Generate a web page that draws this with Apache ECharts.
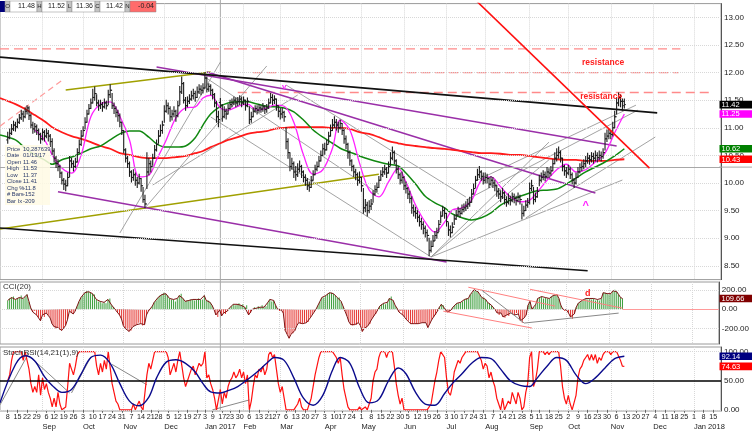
<!DOCTYPE html>
<html><head><meta charset="utf-8">
<script src="https://cdn.jsdelivr.net/npm/echarts@6/dist/echarts.min.js"></script>
<style>html,body{margin:0;padding:0;background:#fff}#c{width:752px;height:439px}</style>
</head><body><div id="c"></div>
<script>
// ---------- calendar ----------
const HOLIDAYS = ['2016-09-05','2016-11-24','2016-12-26','2017-01-02','2017-01-16','2017-02-20','2017-04-14','2017-05-29','2017-07-04','2017-09-04'];
const CAT_START = '2016-08-02', BAR_START = '2016-08-08', CAT_END = '2018-01-19';
const MONTHS = ['Jan','Feb','Mar','Apr','May','Jun','Jul','Aug','Sep','Oct','Nov','Dec'];

// ---------- price bars (daily, from 2016-08-08 to 2017-11-10) ----------
const openP = [
10.78,10.82,10.90,10.98,11.05, 11.02,11.10,11.18,11.25,11.20, 11.30,11.36,11.22,11.05,10.98, 11.02,10.95,10.88,10.80,10.92,
10.85,10.90,10.85,10.75, 10.58,10.45,10.35,10.30,10.18, 10.05,9.98,9.95,10.10,10.40, 10.35,10.30,10.38,10.55,10.70,
10.85,10.95,11.10,11.25,11.35, 11.45,11.55,11.62,11.45,11.40, 11.42,11.38,11.45,11.40,11.60, 11.68,11.40,11.35,11.28,11.22,
11.10,10.95,10.60,10.45,10.35, 10.20,10.10,10.15,10.05,10.00, 10.08,9.95,9.70,9.62,10.20, 10.35,10.30,10.45,10.60,
10.70,10.85,10.95,11.05,11.30, 11.40,11.35,11.20,11.25,11.30, 11.22,11.40,11.65,11.80,11.50, 11.40,11.48,11.52,11.58,11.62,
11.55,11.65,11.70,11.68, 11.72,11.90,11.70,11.75, 11.68,11.60,11.45,11.20,11.46, 11.41,11.20,11.30,11.25,
11.35,11.42,11.45,11.50,11.45, 11.48,11.52,11.45,11.50,11.40, 11.48,11.15,11.20,11.30,11.35, 11.32,11.36,11.34,11.38,11.33,
11.36,11.45,11.55,11.50, 11.52,11.40,11.30,11.25,11.28, 11.20,10.75,10.55,10.30,10.35, 10.20,10.15,10.25,10.30,10.20,
10.10,10.05,9.95,9.92,10.05, 10.15,10.25,10.30,10.40,10.50, 10.62,10.60,10.70,10.85,10.95, 11.05,11.10,11.05,11.00,
11.08,10.95,10.80,10.70,10.55, 10.40,10.30,10.20,10.15,10.05, 10.10,9.95,9.55,9.60,9.50, 9.58,9.62,9.80,9.88,9.92,
10.05,10.15,10.20,10.25,10.18, 10.30,10.45,10.55,10.40,10.25, 10.15,10.05,10.10,9.95, 9.90,9.80,9.72,9.55,9.48,
9.45,9.38,9.30,9.25,9.18, 9.10,9.05,8.78,8.85,8.95, 9.05,9.10,9.25,9.40,9.50, 9.45,9.30,9.15,9.10,
9.20,9.35,9.42,9.48,9.45, 9.52,9.55,9.58,9.62,9.65, 9.80,9.90,10.05,10.15,10.20, 10.12,10.05,10.10,10.08,9.98,
10.05,10.00,9.95,9.85,9.80, 9.75,9.82,9.70,9.65,9.72, 9.68,9.75,9.72,9.68,9.74, 9.70,9.45,9.50,9.60,9.65,
9.90,9.95,9.70,9.75, 9.85,10.05,10.10,10.15,10.12, 10.20,10.18,10.22,10.35,10.45, 10.50,10.55,10.45,10.30,10.22,
10.18,10.25,10.15,10.05,10.00, 10.10,10.20,10.28,10.30,10.35, 10.40,10.45,10.42,10.48,10.45, 10.50,10.46,10.50,10.48,10.55,
10.80,10.85,10.90,10.88,11.00, 11.20,11.45,11.55,11.48,11.48
];
const closeP = [
10.82,10.90,10.98,11.05,11.02, 11.10,11.18,11.25,11.20,11.30, 11.36,11.22,11.05,10.98,11.02, 10.95,10.88,10.80,10.92,10.85,
10.90,10.85,10.75,10.58, 10.45,10.35,10.30,10.18,10.05, 9.98,9.95,10.10,10.40,10.35, 10.30,10.38,10.55,10.70,10.85,
10.95,11.10,11.25,11.35,11.45, 11.55,11.62,11.45,11.40,11.42, 11.38,11.45,11.40,11.60,11.68, 11.40,11.35,11.28,11.22,11.10,
10.95,10.60,10.45,10.35,10.20, 10.10,10.15,10.05,10.00,10.08, 9.95,9.70,9.62,10.20,10.35, 10.30,10.45,10.60,10.70,
10.85,10.95,11.05,11.30,11.40, 11.35,11.20,11.25,11.30,11.22, 11.40,11.65,11.80,11.50,11.40, 11.48,11.52,11.58,11.62,11.55,
11.65,11.70,11.68,11.72, 11.90,11.70,11.75,11.68, 11.60,11.45,11.20,11.15,11.41, 11.20,11.30,11.25,11.35,
11.42,11.45,11.50,11.45,11.48, 11.52,11.45,11.50,11.40,11.48, 11.15,11.20,11.30,11.35,11.32, 11.36,11.34,11.38,11.33,11.36,
11.45,11.55,11.50,11.52, 11.40,11.30,11.25,11.28,11.20, 10.75,10.55,10.30,10.35,10.20, 10.15,10.25,10.30,10.20,10.10,
10.05,9.95,9.92,10.05,10.15, 10.25,10.30,10.40,10.50,10.62, 10.60,10.70,10.85,10.95,11.05, 11.10,11.05,11.00,11.08,
10.95,10.80,10.70,10.55,10.40, 10.30,10.20,10.15,10.05,10.10, 9.95,9.55,9.60,9.50,9.58, 9.62,9.80,9.88,9.92,10.05,
10.15,10.20,10.25,10.18,10.30, 10.45,10.55,10.40,10.25,10.15, 10.05,10.10,9.95,9.90, 9.80,9.72,9.55,9.48,9.45,
9.38,9.30,9.25,9.18,9.10, 9.05,8.78,8.85,8.95,9.05, 9.10,9.25,9.40,9.50,9.45, 9.30,9.15,9.10,9.20,
9.35,9.42,9.48,9.45,9.52, 9.55,9.58,9.62,9.65,9.80, 9.90,10.05,10.15,10.20,10.12, 10.05,10.10,10.08,9.98,10.05,
10.00,9.95,9.85,9.80,9.75, 9.82,9.70,9.65,9.72,9.68, 9.75,9.72,9.68,9.74,9.70, 9.45,9.50,9.60,9.65,9.90,
9.95,9.70,9.75,9.85, 10.05,10.10,10.15,10.12,10.20, 10.18,10.22,10.35,10.45,10.50, 10.55,10.45,10.30,10.22,10.18,
10.25,10.15,10.05,10.00,10.10, 10.20,10.28,10.30,10.35,10.40, 10.45,10.42,10.48,10.45,10.50, 10.46,10.50,10.48,10.55,10.80,
10.85,10.90,10.88,11.00,11.20, 11.45,11.55,11.48,11.40,11.42
];
const highP = [
10.92,10.98,11.06,11.12,11.10, 11.16,11.24,11.32,11.30,11.36, 11.40,11.38,11.25,11.10,11.08, 11.05,10.98,10.90,10.98,10.95,
10.98,10.95,10.88,10.80, 10.62,10.48,10.42,10.32,10.20, 10.08,10.05,10.18,10.48,10.45, 10.40,10.45,10.62,10.78,10.95,
11.02,11.18,11.32,11.42,11.52, 11.70,11.74,11.60,11.50,11.50, 11.46,11.52,11.48,11.68,11.78, 11.62,11.45,11.38,11.32,11.25,
11.10,10.95,10.62,10.48,10.38, 10.22,10.24,10.18,10.10,10.16, 10.08,9.92,9.78,10.55,10.45, 10.40,10.52,10.68,10.78,
10.95,11.05,11.12,11.40,11.50, 11.45,11.38,11.32,11.38,11.32, 11.48,11.75,11.92,11.82,11.55, 11.56,11.60,11.66,11.70,11.66,
11.74,11.78,11.76,11.80, 12.00,11.92,11.80,11.78, 11.70,11.62,11.48,11.30,11.53, 11.42,11.38,11.34,11.42,
11.50,11.52,11.56,11.54,11.55, 11.58,11.56,11.56,11.50,11.54, 11.38,11.28,11.36,11.40,11.40, 11.42,11.40,11.44,11.40,11.42,
11.52,11.62,11.60,11.58, 11.52,11.40,11.35,11.36,11.30, 11.00,10.80,10.55,10.45,10.38, 10.30,10.35,10.40,10.32,10.22,
10.15,10.08,10.02,10.12,10.22, 10.32,10.38,10.48,10.58,10.70, 10.72,10.78,10.92,11.05,11.15, 11.20,11.15,11.10,11.14,
11.08,10.98,10.85,10.72,10.58, 10.42,10.32,10.25,10.18,10.20, 10.10,9.90,9.70,9.65,9.68, 9.70,9.86,9.95,10.00,10.12,
10.22,10.28,10.32,10.28,10.38, 10.55,10.65,10.58,10.42,10.30, 10.18,10.20,10.12,10.02, 9.92,9.85,9.75,9.60,9.56,
9.50,9.42,9.36,9.30,9.22, 9.15,9.00,8.95,9.05,9.12, 9.18,9.32,9.48,9.58,9.55, 9.45,9.28,9.22,9.28,
9.42,9.50,9.56,9.54,9.60, 9.62,9.66,9.70,9.74,9.88, 9.98,10.12,10.25,10.30,10.22, 10.18,10.18,10.16,10.10,10.12,
10.10,10.05,9.96,9.90,9.86, 9.90,9.84,9.75,9.80,9.76, 9.82,9.80,9.76,9.82,9.78, 9.62,9.58,9.68,9.72,10.00,
10.05,9.92,9.82,9.92, 10.14,10.18,10.22,10.20,10.28, 10.26,10.30,10.42,10.55,10.62, 10.65,10.58,10.45,10.32,10.28,
10.32,10.28,10.18,10.08,10.18, 10.28,10.35,10.38,10.42,10.48, 10.54,10.50,10.55,10.54,10.58, 10.55,10.58,10.56,10.62,10.90,
10.96,10.98,10.95,11.10,11.30, 11.55,11.63,11.60,11.52,11.52
];
const lowP = [
10.72,10.80,10.88,10.95,10.94, 11.00,11.08,11.15,11.12,11.18, 11.25,11.15,11.00,10.90,10.92, 10.88,10.78,10.72,10.78,10.76,
10.82,10.76,10.66,10.52, 10.38,10.28,10.22,10.10,9.98, 9.88,9.86,9.95,10.12,10.28, 10.22,10.28,10.38,10.55,10.68,
10.85,10.98,11.10,11.25,11.35, 11.45,11.50,11.40,11.32,11.35, 11.30,11.36,11.34,11.42,11.55, 11.35,11.26,11.20,11.12,11.02,
10.88,10.55,10.38,10.28,10.12, 10.02,10.05,9.96,9.92,9.98, 9.85,9.65,9.55,9.90,10.15, 10.20,10.32,10.45,10.58,
10.72,10.85,10.90,11.10,11.28, 11.25,11.12,11.14,11.20,11.12, 11.20,11.42,11.62,11.45,11.32, 11.38,11.44,11.50,11.52,11.48,
11.55,11.62,11.60,11.63, 11.72,11.65,11.66,11.60, 11.52,11.38,11.10,11.02,11.37, 11.12,11.18,11.16,11.25,
11.34,11.38,11.42,11.38,11.40, 11.42,11.38,11.42,11.32,11.38, 11.08,11.10,11.20,11.28,11.25, 11.28,11.28,11.30,11.26,11.28,
11.35,11.45,11.42,11.44, 11.32,11.20,11.16,11.18,11.12, 10.62,10.45,10.22,10.25,10.10, 10.05,10.12,10.20,10.10,10.02,
9.96,9.88,9.85,9.92,10.05, 10.15,10.22,10.30,10.40,10.50, 10.52,10.60,10.72,10.85,10.95, 11.00,10.96,10.92,10.98,
10.88,10.72,10.62,10.45,10.32, 10.22,10.12,10.06,9.96,10.00, 9.85,9.45,9.48,9.40,9.46, 9.52,9.65,9.78,9.84,9.92,
10.05,10.12,10.16,10.10,10.18, 10.32,10.42,10.35,10.18,10.08, 9.98,10.00,9.88,9.82, 9.72,9.64,9.45,9.40,9.36,
9.30,9.22,9.16,9.08,9.02, 8.95,8.68,8.75,8.85,8.96, 9.00,9.12,9.28,9.40,9.36, 9.22,9.05,9.02,9.10,
9.25,9.34,9.40,9.38,9.44, 9.48,9.50,9.54,9.58,9.65, 9.80,9.92,10.05,10.10,10.05, 9.98,10.00,10.00,9.92,9.96,
9.92,9.86,9.76,9.72,9.66, 9.72,9.62,9.58,9.62,9.60, 9.66,9.64,9.60,9.66,9.62, 9.35,9.40,9.50,9.56,9.62,
9.86,9.62,9.66,9.74, 9.95,10.02,10.06,10.04,10.10, 10.10,10.14,10.22,10.35,10.40, 10.45,10.38,10.22,10.14,10.10,
10.15,10.08,9.98,9.92,9.98, 10.10,10.18,10.22,10.26,10.30, 10.36,10.34,10.38,10.36,10.40, 10.38,10.42,10.40,10.45,10.60,
10.75,10.80,10.80,10.85,11.00, 11.25,11.40,11.38,11.32,11.36
];

// ---------- moving averages: first value at the first category, then one per week (week's last bar) ----------
const maRed = [11.54, 11.43,11.34,11.23,11.12,11.01,10.92,10.85,10.80,10.74,10.67, 10.62,10.54,10.51,10.47,10.45,10.45,10.45,10.47,10.49,10.54,
 10.58,10.65,10.72,10.78,10.83,10.89,10.92,10.94,10.98,11.00, 11.01,11.01,11.01,11.01,11.00,11.00,10.98,10.92,10.89,10.83,
 10.76,10.72,10.69,10.67,10.65,10.63,10.62,10.60,10.58,10.56, 10.54,10.54,10.53,10.51,10.51,10.49,10.47,10.45,10.43,10.42, 10.42,10.40,10.40,10.40,10.42,10.43];
const maGreen = [10.87, 10.78,10.63,10.51,10.42,10.34,10.42,10.47,10.54,10.62,10.67, 10.78,10.89,10.94,10.94,10.83,10.71,10.65,10.65,10.67,10.82,
 11.05,11.25,11.39,11.45,11.47,11.47,11.43,11.39,11.38,11.36, 11.29,11.14,10.96,10.83,10.72,10.63,10.56,10.49,10.43,10.38,
 10.34,10.31,10.18,9.98,9.76,9.64,9.55,9.44,9.37,9.33, 9.37,9.46,9.60,9.69,9.76,9.82,9.86,9.87,9.89,9.98, 10.09,10.20,10.29,10.38,10.49,10.62];
const maMagenta = [null, null,null,10.96,10.78,10.51,10.27,10.18,10.51,11.20,11.43, 11.47,11.21,10.78,10.11,10.14,10.42,10.78,11.18,11.36,11.38,
 11.54,11.59,11.36,11.32,11.39,11.43,11.32,11.36,11.41,11.39, 11.10,10.51,10.16,10.24,10.63,11.14,10.96,10.36,9.87,9.75,
 10.02,10.27,10.02,9.60,9.29,9.11,9.29,9.51,9.55,9.69, 10.05,10.11,9.93,9.75,9.66,9.69,9.84,10.05,10.24,10.34, 10.20,10.24,10.38,10.54,10.91,11.25];

// ---------- CCI(20), daily ----------
const cci = [
90,110,120,130,100, 110,120,140,110,130, 150,80,10,-30,-20, -60,-90,-120,-60,-80,
-40,-60,-90,-150, -180,-200,-190,-210,-220, -200,-170,-110,-20,-40, -50,-20,30,80,120,
140,170,190,180,170, 160,150,100,80,80, 60,70,60,100,110, 40,20,-10,-30,-60,
-100,-170,-200,-210,-230, -220,-180,-170,-160,-140, -150,-170,-160,-60,-20, -10,30,70,90,
120,140,150,170,160, 140,110,100,100,80, 110,140,160,110,80, 90,90,100,100,90,
100,110,100,100, 140,90,90,70, 40,0,-60,-80,-10, -70,-40,-50,-20,
10,30,50,40,50, 60,40,50,20,40, -60,-40,0,20,10, 30,20,40,20,30,
70,100,80,90, 40,0,-20,-10,-40, -220,-260,-300,-260,-250, -220,-170,-140,-150,-150,
-140,-140,-130,-90,-60, -30,0,40,80,120, 120,140,160,170,170, 160,140,120,120,
80,30,-20,-70,-130, -160,-170,-160,-160,-140, -170,-230,-200,-190,-170, -150,-100,-70,-50,-10,
30,50,60,50,70, 110,130,90,40,10, -30,-20,-60,-80, -110,-120,-150,-150,-150,
-150,-150,-140,-140,-140, -140,-190,-150,-110,-80, -60,-20,20,50,40, 0,-30,-30,-10,
20,40,60,60,70, 80,100,110,110,150, 170,200,190,180,150, 120,120,100,70,60,
40,20,-10,-40,-60, -40,-80,-90,-60,-70, -40,-50,-60,-40,-50, -120,-140,-90,-60,40,
80,0,20,50, 110,120,130,110,120, 110,110,130,140,150, 150,110,40,0,-20,
-10,-40,-80,-100,-50, 20,60,70,90,100, 110,100,110,100,110, 90,100,90,110,170,
170,160,150,160,190, 200,180,150,120,109.66
];

// ---------- StochRSI(14,21(1),9) ----------
const stochK = [
50,60,85,100,100, 100,100,100,85,100, 100,70,45,30,40, 30,60,25,55,35,
45,30,20,5, 20,5,30,10,0, 0,5,40,80,70, 60,75,95,100,100,
100,100,100,100,100, 100,100,75,60,80, 65,85,70,100,100, 45,30,15,10,0,
0,0,0,0,0, 0,10,0,0,15, 5,0,0,60,80, 70,85,100,100,
100,100,100,100,100, 90,60,70,80,65, 85,100,100,55,40, 50,60,70,75,60,
70,80,75,80, 100,55,60,45, 35,20,0,0,35, 10,30,20,40,
50,55,65,55,60, 70,55,65,45,60, 0,15,40,60,55, 70,65,75,60,70,
95,100,90,95, 70,45,30,40,20, 0,0,0,0,0, 0,10,20,5,0,
0,0,0,20,40, 60,75,90,100,100, 100,100,100,100,100, 100,90,80,90,
60,35,20,5,0, 0,0,0,0,5, 0,0,5,0,10, 20,50,65,70,90,
100,100,100,90,100, 100,100,75,45,25, 10,20,0,0, 0,0,0,0,0,
0,0,0,0,0, 0,0,10,30,50, 65,85,100,100,90, 55,30,25,40,
65,75,85,80,90, 95,100,100,100,100, 100,100,100,100,85, 70,80,75,55,65,
50,40,20,10,0, 20,0,0,15,10, 30,20,10,30,20, 0,5,30,45,90,
100,40,50,70, 100,100,100,95,100, 95,100,100,100,100, 100,75,40,20,10,
25,10,0,0,25, 55,70,75,85,90, 95,85,95,85,95, 80,90,85,95,100,
100,100,95,100,100, 100,100,85,75,74.63
];
const stochD = [12, 78,93,84,57,42,30,35,62,90,94, 80,45,15,7,22,55,82,86,80,65,
 45,31,29,33,40,52,65,80,90,85, 55,20,8,25,68,90,80,38,12,18,
 50,72,62,30,10,8,28,45,62,80, 90,88,70,50,42,40,55,75,90,85, 60,45,55,72,88,92.14];

// ---------- drawn trendlines [date, value] ----------
const tlBlackUp   = [['2016-08-02',12.28],['2017-12-05',11.27]];
const tlBlackLo   = [['2016-08-02',9.185],['2017-10-16',8.41]];
const tlOliveUp   = [['2016-09-20',11.685],['2017-01-06',12.01]];
const tlOliveLo   = [['2016-08-02',9.167],['2017-05-12',10.16]];
const tlPurpleA   = [['2016-11-25',12.10],['2017-11-06',10.67]];
const tlPurpleB   = [['2017-01-04',12.01],['2017-10-20',9.82]];
const tlPurpleC   = [['2016-09-14',9.84],['2017-07-03',8.57]];
const tlRed       = [['2017-07-25',13.315],['2017-11-29',10.27]];
const tlPinkDash  = [['2016-08-02',11.03],['2016-09-19',11.884]];
const resLines    = [
  [['2016-08-02',12.43],['2017-12-21',12.43]],
  [['2017-02-08',12.00],['2017-12-20',12.00]],
  [['2017-01-27',11.64],['2018-01-11',11.64]]
];
const grayLines = [
  [['2016-10-28',9.094],['2017-01-13',12.19]],
  [['2016-11-16',9.547],['2017-02-17',12.12]],
  [['2016-11-22',9.964],['2017-03-14',11.594]],
  [['2017-01-03',11.92],['2017-05-12',9.80]],
  [['2017-01-06',11.196],['2017-06-21',8.66]],
  [['2017-03-06',11.775],['2017-07-18',9.746]],
  [['2017-06-21',8.66],['2017-09-18',10.74]],
  [['2017-06-21',8.66],['2017-09-18',10.42]],
  [['2017-07-26',10.054],['2017-11-20',11.41]],
  [['2017-07-18',9.69],['2017-11-21',11.32]],
  [['2017-08-30',9.366],['2017-12-04',10.833]],
  [['2017-06-21',8.66],['2017-11-09',10.054]]
];
const cciPink = [
  [['2017-07-20',226],['2017-09-22',31]],
  [['2017-06-30',-21],['2017-09-06',-195]],
  [['2017-09-05',205],['2017-11-10',10]]
];
const cciGray = [
  [['2017-07-31',195],['2017-08-30',-144]],
  [['2017-08-30',-144],['2017-11-08',-41]]
];
const stochGray = [
  [['2016-08-02',8.6],['2016-08-23',98]],
  [['2016-08-24',90],['2016-09-22',29]],
  [['2016-09-23',29],['2016-10-07',91]],
  [['2016-10-24',78],['2016-11-17',43]],
  [['2017-01-09',0],['2017-02-06',17]]
];
const priceTicks = [8.5,9,9.5,10,10.5,11,11.5,12,12.5,13];
const cciTicks = [200,0,-200];
const stochTicks = [100,50,0];
const crossDate = '2017-01-13', crossPrice = 10.287639;
const lastVals = {close:11.42, magenta:11.25, green:10.62, red:10.43, cci:109.66, d:92.14, k:74.63};
const header = [['O','11.48'],['H','11.52'],['L','11.36'],['C','11.42'],['N','-0.04']];
const infoRows = [['Price','10.287639'],['Date','01/13/17'],['Open','11.46'],['High','11.53'],['Low','11.37'],['Close','11.41'],['Chg %','-11.8'],['# Bars','-152'],['Bar Ix','-209']];

// ---------- build categories ----------
const dates = [];
(function(){
  let t = Date.UTC(2016,7,2); const end = Date.UTC(2018,0,19);
  while (t <= end) { const d = new Date(t); const wd = d.getUTCDay(); const s = d.toISOString().slice(0,10);
    if (wd !== 0 && wd !== 6 && HOLIDAYS.indexOf(s) < 0) dates.push(s); t += 86400000; }
})();
function idxOf(s){ for (let i=0;i<dates.length;i++) if (dates[i] >= s) return i; return dates.length-1; }
function weekKey(s){ const t = Date.parse(s); return Math.floor((t/86400000 + 3)/7); }
const barStart = idxOf(BAR_START);
const nBars = closeP.length;
const weekFirst = new Set(), monthFirst = new Set();
for (let i=1;i<dates.length;i++){
  if (i >= barStart && weekKey(dates[i]) !== weekKey(dates[i-1])) weekFirst.add(i);
  if (dates[i].slice(5,7) !== dates[i-1].slice(5,7)) monthFirst.add(i);
}
const weekEnds = [0];
for (let i=barStart;i<barStart+nBars;i++){
  if (i === barStart+nBars-1 || weekKey(dates[i]) !== weekKey(dates[i+1])) weekEnds.push(i);
}
function weekly(arr){ const out = new Array(dates.length).fill(null); arr.forEach((v,k)=>{ if (k < weekEnds.length) out[weekEnds[k]] = v; }); return out; }
function daily(arr){ const out = new Array(dates.length).fill(null); arr.forEach((v,k)=>{ out[barStart+k] = v; }); return out; }
const pts = line => line.map(p => [idxOf(p[0]), p[1]]);
const lastIdx = barStart + nBars - 1;

const FONT = 'Liberation Sans, Arial, sans-serif';
const GRIDS = [
  {left:0, width:721, top:3.6, height:276},
  {left:0, width:721, top:282, height:62},
  {left:0, width:721, top:347, height:64}
];
function xAx(gi, show){
  return {type:'category', gridIndex:gi, data:dates, boundaryGap:false,
    axisLine:{show:false}, axisTick:{show:show, interval:(i)=>weekFirst.has(i), length:3, lineStyle:{color:'#666'}},
    axisLabel:{show:show, interval:(i)=>weekFirst.has(i), formatter:(v)=>String(+v.slice(8,10)), fontSize:7.2, color:'#222', fontFamily:FONT, margin:3},
    splitLine:{show:true, interval:(i)=>monthFirst.has(i), lineStyle:{color:'#d8d8d8', type:'dotted'}}};
}
function lineSeries(data, xi, color, width, opts){
  return Object.assign({type:'line', xAxisIndex:xi, yAxisIndex:xi, data:data, symbol:'none', silent:true,
    lineStyle:{color:color, width:width}, connectNulls:true, animation:false, z:3}, opts||{});
}
const series = [];
series.push({type:'line', xAxisIndex:0, yAxisIndex:0, data:[], markLine:{silent:true, symbol:'none', label:{show:false},
  lineStyle:{color:'#d8d8d8', type:'dotted', width:1}, data: priceTicks.map(v=>({yAxis:v}))}});
series.push({type:'line', xAxisIndex:1, yAxisIndex:1, data:[], markLine:{silent:true, symbol:'none', label:{show:false},
  lineStyle:{color:'#d8d8d8', type:'dotted', width:1}, data: cciTicks.map(v=>({yAxis:v}))}});
series.push({type:'line', xAxisIndex:2, yAxisIndex:2, data:[], markLine:{silent:true, symbol:'none', label:{show:false},
  lineStyle:{color:'#d8d8d8', type:'dotted', width:1}, data: [100,0].map(v=>({yAxis:v}))}});
resLines.forEach(l => series.push(lineSeries(pts(l),0,'#ff8a8a',1.4,{lineStyle:{color:'#ff8a8a',width:1.4,type:[9,5]}})));
series.push(lineSeries(pts(tlPinkDash),0,'#ff9a9a',1.2,{lineStyle:{color:'#ff9a9a',width:1.2,type:[6,4]}}));
grayLines.forEach(l => series.push(lineSeries(pts(l),0,'#8c8c8c',0.8)));
series.push(lineSeries(pts(tlOliveUp),0,'#a0a000',1.6));
series.push(lineSeries(pts(tlOliveLo),0,'#a0a000',1.6));
series.push(lineSeries(pts(tlPurpleA),0,'#9a2fa8',1.6));
series.push(lineSeries(pts(tlPurpleB),0,'#9a2fa8',1.6));
series.push(lineSeries(pts(tlPurpleC),0,'#9a2fa8',1.6));
series.push(lineSeries(pts(tlBlackUp),0,'#111',1.6));
series.push(lineSeries(pts(tlBlackLo),0,'#111',1.6));
series.push(lineSeries(weekly(maRed),0,'#ff1a1a',1.8,{smooth:0.3, z:4}));
series.push(lineSeries(weekly(maGreen),0,'#118811',1.5,{smooth:0.3, z:4}));
series.push(lineSeries(weekly(maMagenta),0,'#ff22ff',1.3,{smooth:0.35, z:4}));
// OHLC bars
const barData = [];
for (let k=0;k<nBars;k++) barData.push([barStart+k, openP[k], highP[k], lowP[k], closeP[k]]);
series.push({type:'custom', xAxisIndex:0, yAxisIndex:0, data:barData, silent:true, z:5, animation:false,
  encode:{x:0, y:[1,2,3,4]},
  renderItem:function(params, api){
    const x = api.value(0);
    const o = api.coord([x, api.value(1)]), h = api.coord([x, api.value(2)]), l = api.coord([x, api.value(3)]), c = api.coord([x, api.value(4)]);
    const st = {stroke:'#1c1c1c', lineWidth:1.1};
    return {type:'group', children:[
      {type:'line', shape:{x1:h[0], y1:h[1]-0.5, x2:l[0], y2:l[1]+0.5}, style:st},
      {type:'line', shape:{x1:o[0]-1.5, y1:o[1], x2:o[0], y2:o[1]}, style:{stroke:'#1c1c1c', lineWidth:1}},
      {type:'line', shape:{x1:c[0], y1:c[1], x2:c[0]+1.5, y2:c[1]}, style:{stroke:'#1c1c1c', lineWidth:1}}
    ]};
  }});
series.push(lineSeries(pts(tlRed),0,'#ff1010',1.6,{z:6}));
series.push({type:'line', xAxisIndex:0, yAxisIndex:0, data:[], markLine:{silent:true, symbol:'none', label:{show:false},
  lineStyle:{color:'#a8a8a8', type:'solid', width:1}, data:[{yAxis:crossPrice}]}});
// CCI
const cciDaily = daily(cci);
series.push({type:'bar', xAxisIndex:1, yAxisIndex:1, data:cciDaily, barWidth:1, silent:true, animation:false,
  itemStyle:{color:(p)=> p.value >= 0 ? '#3f9f3f' : '#e53935'}});
series.push(lineSeries(cciDaily,1,'#7d1414',1,{connectNulls:false, z:4}));
cciPink.forEach(l => series.push(lineSeries(pts(l),1,'#ff8080',1,{z:5})));
cciGray.forEach(l => series.push(lineSeries(pts(l),1,'#888',1,{z:5})));
series.push({type:'line', xAxisIndex:1, yAxisIndex:1, data:[], markLine:{silent:true, symbol:'none', label:{show:false},
  lineStyle:{color:'#ff9a9a', type:'solid', width:1.2}, data:[[{coord:[lastIdx,0]},{coord:[dates.length-1,0]}]]}});
// Stoch
series.push({type:'line', xAxisIndex:2, yAxisIndex:2, data:[], markLine:{silent:true, symbol:'none', label:{show:false},
  lineStyle:{color:'#000', type:'solid', width:1.6}, data:[{yAxis:50}]}});
stochGray.forEach(l => series.push(lineSeries(pts(l),2,'#888',1,{z:3})));
series.push(lineSeries(daily(stochK),2,'#ff1111',1.2,{z:4, connectNulls:false}));
series.push(lineSeries(weekly(stochD),2,'#0a0a8c',1.4,{z:5, smooth:0.35}));

function yAx(gi, min, max, interval, ticks){
  return {type:'value', gridIndex:gi, position:'right', min:min, max:max, interval:interval, scale:true,
    axisLine:{show:true, lineStyle:{color:'#555'}}, axisTick:{show:false}, splitLine:{show:false},
    axisLabel:{fontSize:8, color:'#222', fontFamily:FONT, margin:3,
      formatter:(v)=>{ const hit = ticks.find(t=>Math.abs(t-v)<1e-6); return hit===undefined ? '' : hit.toFixed(2); }}};
}
const option = {
  animation:false, backgroundColor:'#fff',
  grid: GRIDS.map(g=>Object.assign({show:true, borderColor:'#9a9a9a', borderWidth:1}, g)),
  xAxis: [xAx(0,false), xAx(1,false), xAx(2,true),
    {type:'category', gridIndex:2, data:dates, boundaryGap:false, position:'bottom', offset:9,
     axisLine:{show:false}, axisTick:{show:false}, splitLine:{show:false},
     axisLabel:{interval:(i)=>monthFirst.has(i), align:'left', fontSize:7.5, color:'#222', fontFamily:FONT, margin:3,
       formatter:(v)=>{ const m = +v.slice(5,7)-1; return MONTHS[m] + (m===0 ? ' ' + v.slice(0,4) : ''); }}}],
  yAxis: [yAx(0,8.25,13.25,0.25,priceTicks), yAx(1,-360,280,40,cciTicks), yAx(2,-2,108,2,stochTicks)],
  series: series
};
const chart = echarts.init(document.getElementById('c'));
chart.setOption(option);

// ---------- overlays placed through the chart's scales ----------
const g = [];
function tag(ai, val, text, bg){
  const y = chart.convertToPixel({yAxisIndex:ai}, val);
  g.push({type:'rect', shape:{x:719.5, y:y-3.8, width:33, height:7.6}, style:{fill:bg}, z:100});
  g.push({type:'text', x:721.5, y:y+0.3, style:{text:text, fill:'#fff', font:'7.5px '+FONT, verticalAlign:'middle'}, z:101});
}
tag(0,lastVals.close,'11.42','#000');
tag(0,lastVals.magenta,'11.25','#ff00ff');
tag(0,lastVals.green,'10.62','#008000');
tag(0,lastVals.red,'10.43','#ff0000');
tag(1,lastVals.cci,'109.66','#800000');
tag(2,lastVals.d,'92.14','#000080');
tag(2,lastVals.k,'74.63','#ff0000');
const cx = chart.convertToPixel({xAxisIndex:0}, idxOf(crossDate));
g.push({type:'line', shape:{x1:cx, y1:0, x2:cx, y2:411}, style:{stroke:'#a8a8a8', lineWidth:1}, z:2});
const cy = chart.convertToPixel({yAxisIndex:0}, crossPrice);
g.push({type:'line', shape:{x1:719, y1:cy, x2:752, y2:cy}, style:{stroke:'#a8a8a8', lineWidth:1}, z:2});
function note(xi, date, val, text, color, size, bold){
  const p = chart.convertToPixel({xAxisIndex:xi, yAxisIndex:xi}, [idxOf(date), val]);
  g.push({type:'text', x:p[0], y:p[1], style:{text:text, fill:color, font:(bold?'bold ':'')+size+'px '+FONT, align:'center', verticalAlign:'middle'}, z:60});
}
note(0,'2017-10-26',12.18,'resistance','#ff2020',8.5,true);
note(0,'2017-10-25',11.56,'resistance','#ff2020',8.5,true);
note(0,'2017-03-03',11.75,'v','#ff22ff',8,true);
note(0,'2017-10-13',9.58,'^','#ff22ff',11,true);
note(1,'2017-10-17',164,'d','#ff2020',9,true);
g.push({type:'text', x:3, y:287, style:{text:'CCI(20)', fill:'#333', font:'8px '+FONT, verticalAlign:'middle'}, z:60});
g.push({type:'text', x:3, y:353, style:{text:'StochRSI(14,21(1),9)', fill:'#333', font:'8px '+FONT, verticalAlign:'middle'}, z:60});
g.push({type:'rect', shape:{x:0, y:1, width:5, height:11}, style:{fill:'#00007a'}, z:70});
const cells = [[5,37],[37,67],[67,95],[95,125],[125,156]];
header.forEach((h,k)=>{
  const [a,b] = cells[k];
  g.push({type:'rect', shape:{x:a, y:1, width:5, height:11}, style:{fill:'#c4c4c4', stroke:'#8a8a8a', lineWidth:0.5}, z:70});
  g.push({type:'text', x:a+2.5, y:6.5, style:{text:h[0], fill:'#222', font:'6px '+FONT, align:'center', verticalAlign:'middle'}, z:71});
  g.push({type:'rect', shape:{x:a+5, y:1, width:b-a-5, height:11}, style:{fill: k===4 ? '#ff6b6b' : '#fff', stroke:'#8a8a8a', lineWidth:0.5}, z:70});
  g.push({type:'text', x:b-2, y:6.5, style:{text:h[1], fill:'#222', font:'7px '+FONT, align:'right', verticalAlign:'middle'}, z:71});
});
g.push({type:'rect', shape:{x:5, y:145, width:45, height:60}, style:{fill:'rgba(255,250,228,0.85)'}, z:70});
infoRows.forEach((r,k)=>{
  const y = 149 + k*6.5;
  g.push({type:'text', x:7, y:y, style:{text:r[0], fill:'#2a3a6a', font:'5.8px '+FONT, verticalAlign:'middle'}, z:71});
  g.push({type:'text', x:23, y:y, style:{text:r[1], fill:'#2a3a6a', font:'5.8px '+FONT, verticalAlign:'middle'}, z:71});
});
const lens = [openP.length, highP.length, lowP.length, cci.length, stochK.length];
if (lens.some(n => n !== nBars) || weekEnds.length !== maRed.length) {
  g.push({type:'text', x:300, y:20, style:{text:'LEN '+nBars+' '+lens.join(',')+' we '+weekEnds.length, fill:'#f00', font:'12px '+FONT}, z:200});
}
chart.setOption({graphic:{elements:g}});
</script></body></html>
